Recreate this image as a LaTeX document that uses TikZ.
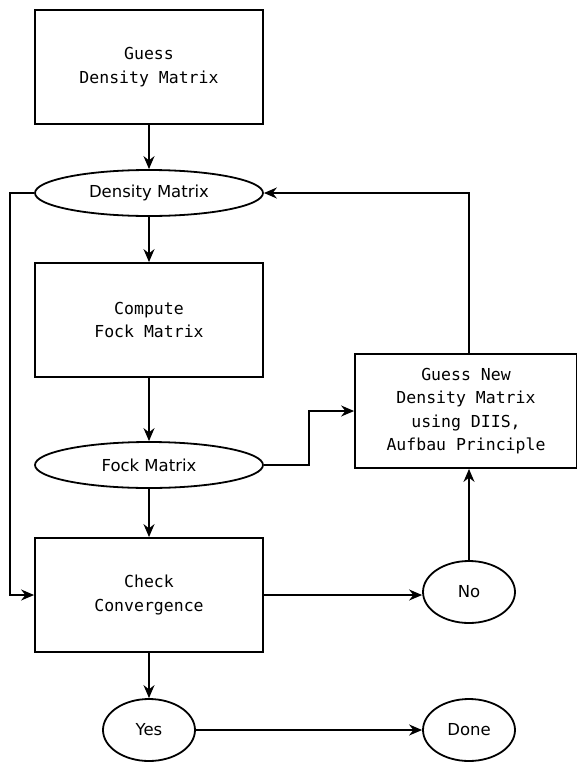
\documentclass[tikz,border=0pt]{standalone}
\usepackage{fontspec}
\setmainfont{DejaVu Sans}
\newfontfamily\monof{DejaVu Sans Mono}
\usetikzlibrary{arrows.meta,shapes.geometric}
\begin{document}
\begin{tikzpicture}[x=1pt,y=-1pt,
  boxn/.style={draw,line width=1.8pt,minimum width=228pt,minimum height=114pt,inner sep=0pt,align=center,font=\fontsize{16.5}{23.5}\selectfont\monof},
  ell/.style={draw,ellipse,line width=1.8pt,inner sep=0pt,font=\fontsize{16.5}{20}\selectfont},
  arr/.style={-{Stealth[length=13pt,width=11pt]},line width=1.8pt},
  ln/.style={line width=1.8pt}]
\useasboundingbox (0,0) rectangle (577,763);
\node[boxn] (guess) at (149,67) {Guess\\Density Matrix};
\node[ell,minimum width=228pt,minimum height=46pt] (dm) at (149,193) {Density Matrix};
\node[boxn] (fock) at (149,320) {Compute\\Fock Matrix};
\node[ell,minimum width=228pt,minimum height=46pt] (fm) at (149,465) {Fock Matrix};
\node[boxn] (check) at (149,595) {Check\\Convergence};
\node[boxn,minimum width=222pt] (new) at (466,411) {Guess New\\Density Matrix\\using DIIS,\\Aufbau Principle};
\node[ell,minimum width=92pt,minimum height=62pt] (no) at (469,592) {No};
\node[ell,minimum width=92pt,minimum height=62pt] (yes) at (149,730) {Yes};
\node[ell,minimum width=92pt,minimum height=62pt] (done) at (469,730) {Done};
\draw[arr] (guess) -- (dm);
\draw[arr] (dm) -- (fock);
\draw[arr] (fock) -- (fm);
\draw[arr] (fm) -- (check);
\draw[arr] (check) -- (yes);
\draw[arr] (check.east) -- (no.west |- check.east);
\draw[arr] (yes) -- (done);
\draw[arr] (no) -- (no |- new.south);
\draw[arr] (no |- new.north) |- (dm.east);
\draw[arr] (fm.east) -- (309,465) |- (new.west);
\draw[arr] (dm.west) -- (10,193) |- (check.west);
\end{tikzpicture}
\end{document}
